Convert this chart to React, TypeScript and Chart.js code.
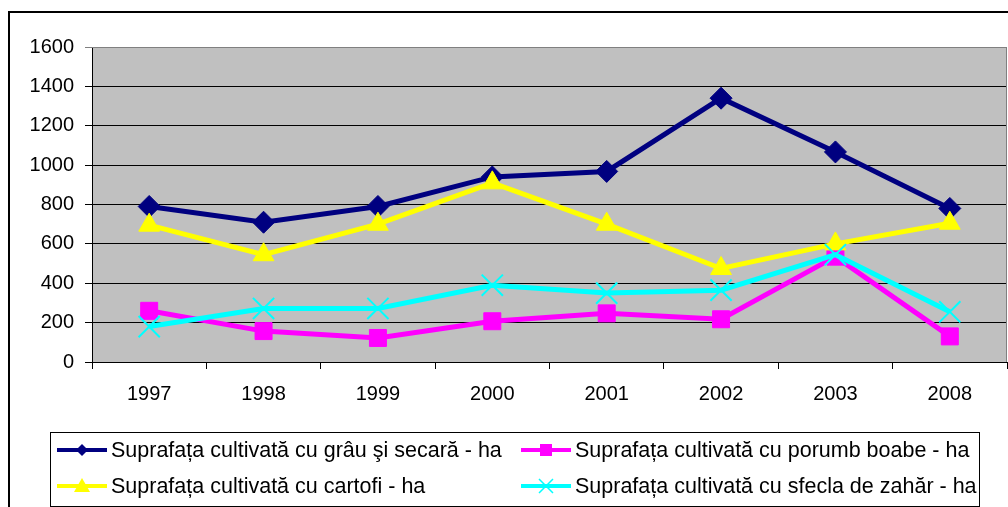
import React, { useEffect, useRef } from "react";
import { Chart, registerables } from "chart.js";

Chart.register(...registerables);

const years = ["1997", "1998", "1999", "2000", "2001", "2002", "2003", "2008"];
const wheatRye = [790, 710, 790, 940, 968, 1340, 1067, 780];
const cornGrain = [260, 157, 122, 207, 247, 217, 535, 130];
const potatoes = [695, 545, 700, 910, 700, 475, 600, 705];
const sugarBeet = [180, 272, 272, 390, 350, 365, 545, 255];

const seriesNames = [
  "Suprafața cultivată cu grâu şi secară - ha",
  "Suprafața cultivată cu porumb boabe - ha",
  "Suprafața cultivată cu cartofi - ha",
  "Suprafața cultivată cu sfecla de zahăr - ha",
];
const seriesColors = ["#000080", "#FF00FF", "#FFFF00", "#00FFFF"];
const yMin = 0;
const yMax = 1600;
const yStep = 200;

const FONT = "'Liberation Sans', Arial, sans-serif";
const W = 1008;
const H = 507;

function drawMarker(ctx: CanvasRenderingContext2D, kind: string, x: number, y: number, color: string) {
  ctx.save();
  ctx.fillStyle = color;
  ctx.strokeStyle = color;
  ctx.beginPath();
  if (kind === "diamond") {
    ctx.moveTo(x, y - 6);
    ctx.lineTo(x + 6, y);
    ctx.lineTo(x, y + 6);
    ctx.lineTo(x - 6, y);
    ctx.closePath();
    ctx.fill();
  } else if (kind === "square") {
    ctx.rect(x - 6, y - 6, 12, 12);
    ctx.fill();
  } else if (kind === "triangle") {
    ctx.moveTo(x, y - 8);
    ctx.lineTo(x + 8, y + 6);
    ctx.lineTo(x - 8, y + 6);
    ctx.closePath();
    ctx.fill();
  } else {
    ctx.lineWidth = 1.5;
    ctx.moveTo(x - 7, y - 7);
    ctx.lineTo(x + 7, y + 7);
    ctx.moveTo(x + 7, y - 7);
    ctx.lineTo(x - 7, y + 7);
    ctx.stroke();
  }
  ctx.restore();
}

export default function App() {
  const ref = useRef<HTMLCanvasElement>(null);

  useEffect(() => {
    const canvas = ref.current;
    if (!canvas) return;
    const markerKinds = ["diamond", "square", "triangle", "cross"];

    const framePlugin = {
      id: "frame",
      beforeDraw(chart: any) {
        const { ctx, chartArea: a } = chart;
        ctx.save();
        ctx.fillStyle = "#FFFFFF";
        ctx.fillRect(0, 0, W, H);
        ctx.fillStyle = "#C0C0C0";
        ctx.fillRect(a.left, a.top, a.right - a.left, a.bottom - a.top);
        ctx.restore();
      },
      beforeDatasetsDraw(chart: any) {
        const { ctx, chartArea: a } = chart;
        ctx.save();
        ctx.strokeStyle = "#808080";
        ctx.lineWidth = 1;
        ctx.beginPath();
        ctx.moveTo(a.left, a.top + 0.5);
        ctx.lineTo(a.right - 0.5, a.top + 0.5);
        ctx.lineTo(a.right - 0.5, a.bottom);
        ctx.stroke();
        ctx.restore();
      },
      afterDraw(chart: any) {
        const { ctx } = chart;
        ctx.save();
        // outer chart border
        ctx.strokeStyle = "#000000";
        ctx.lineWidth = 2;
        ctx.strokeRect(9, 12, 1200, 700);
        // legend box
        ctx.lineWidth = 1;
        ctx.strokeStyle = "#000000";
        ctx.strokeRect(50.5, 432.5, 929, 74);
        const cols = [57, 521];
        const rows = [450, 486];
        ctx.font = `21.5px ${FONT}`;
        ctx.textBaseline = "middle";
        ctx.textAlign = "left";
        for (let i = 0; i < seriesNames.length; i++) {
          const x = cols[i % 2];
          const y = rows[Math.floor(i / 2)];
          ctx.strokeStyle = seriesColors[i];
          ctx.lineWidth = 4;
          ctx.beginPath();
          ctx.moveTo(x, y);
          ctx.lineTo(x + 50, y);
          ctx.stroke();
          drawMarker(ctx, markerKinds[i], x + 25, y, seriesColors[i]);
          ctx.fillStyle = "#000000";
          ctx.fillText(seriesNames[i], x + 54, y + 1);
        }
        ctx.restore();
      },
    };

    const seriesData = [wheatRye, cornGrain, potatoes, sugarBeet];
    const pointStyles = ["rectRot", "rect", "triangle", "crossRot"];
    const pointRadii = [11, 12, 12, 15];
    const orders = [4, 3, 2, 1];

    const chart = new Chart(canvas, {
      type: "line",
      data: {
        labels: years,
        datasets: seriesData.map((d, i) => ({
          label: seriesNames[i],
          data: d,
          borderColor: seriesColors[i],
          backgroundColor: seriesColors[i],
          pointBackgroundColor: seriesColors[i],
          pointBorderColor: seriesColors[i],
          pointStyle: pointStyles[i] as any,
          pointRadius: pointRadii[i],
          pointBorderWidth: i === 3 ? 2 : 1,
          borderWidth: 5,
          tension: 0,
          fill: false,
          order: orders[i],
        })),
      },
      options: {
        responsive: false,
        animation: false,
        layout: { autoPadding: false, padding: { top: 47, right: 1, left: 0, bottom: 0 } },
        plugins: {
          legend: { display: false },
          tooltip: { enabled: false },
        },
        scales: {
          x: {
            type: "category",
            offset: true,
            grid: {
              offset: true,
              drawOnChartArea: false,
              drawTicks: true,
              tickLength: 7,
              color: "#000000",
            },
            border: { color: "#000000", width: 1 },
            ticks: {
              font: { family: FONT, size: 20 },
              color: "#000000",
              padding: 13,
              maxRotation: 0,
              autoSkip: false,
            },
            afterFit(s: any) {
              s.height = 145;
              s.paddingLeft = 0;
              s.paddingRight = 0;
            },
          },
          y: {
            min: yMin,
            max: yMax,
            grid: {
              tickLength: 7,
              color: (c: any) => (c.tick && c.tick.value === yMax ? "#808080" : "#000000"),
            },
            border: { color: "#000000", width: 1 },
            ticks: {
              stepSize: yStep,
              font: { family: FONT, size: 20 },
              color: "#000000",
              padding: 11,
              callback: (v: any) => String(v),
            },
            afterFit(s: any) {
              s.width = 92;
              s.paddingTop = 0;
              s.paddingBottom = 0;
            },
          },
        },
      },
      plugins: [framePlugin],
    });

    return () => chart.destroy();
  }, []);

  return (
    <div style={{ position: "absolute", left: 0, top: 0, width: W, height: H }}>
      <canvas ref={ref} width={W} height={H} style={{ display: "block" }} />
    </div>
  );
}
